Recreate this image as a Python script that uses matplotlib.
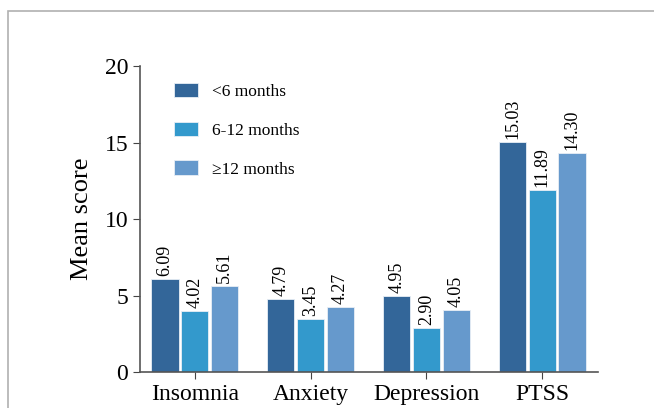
import numpy as np
import matplotlib.pyplot as plt
from matplotlib.patches import Rectangle

categories = ["Insomnia", "Anxiety", "Depression", "PTSS"]
groups = ["<6 months", "6-12 months", "≥12 months"]
values_lt6 = [6.09, 4.79, 4.95, 15.03]
values_6_12 = [4.02, 3.45, 2.90, 11.89]
values_ge12 = [5.61, 4.27, 4.05, 14.30]
y_ticks = [0, 5, 10, 15, 20]

colors = ["#336699", "#3399cc", "#6699cc"]
series = [values_lt6, values_6_12, values_ge12]

plt.rcParams['font.family'] = ['Liberation Serif', 'DejaVu Serif']

fig = plt.figure(figsize=(6.54, 4.08), dpi=100)
ax = fig.add_axes([0.214, 0.088, 0.700, 0.750])

# grey frame around the figure
fig.patches.append(Rectangle((0.012, -0.2), 1.2, 0.2 + 0.972, transform=fig.transFigure,
                             fill=False, edgecolor="#b0b0b0", linewidth=1.2))

x = np.arange(len(categories))
width = 0.235
step = 0.257
for i, (vals, col, lab) in enumerate(zip(series, colors, groups)):
    pos = x + (i - 1) * step
    ax.bar(pos, vals, width, color=col, edgecolor="#e8eef5", linewidth=0.6, label=lab)
    for p, v in zip(pos, vals):
        ax.text(p, v + 0.2, f"{v:.2f}", rotation=90, ha="center", va="bottom", fontsize=13)

ax.set_xlim(-0.474, 3.48)
ax.set_ylim(0, 20)
ax.set_yticks(y_ticks)
ax.set_xticks(x)
ax.set_xticklabels(categories, fontsize=17)
ax.tick_params(axis='y', labelsize=17, length=5, color="#444444")
ax.tick_params(axis='x', length=5, color="#444444")
ax.set_ylabel("Mean score", fontsize=19, labelpad=8)

for s in ["top", "right"]:
    ax.spines[s].set_visible(False)
for s in ["left", "bottom"]:
    ax.spines[s].set_color("#555555")
    ax.spines[s].set_linewidth(1.2)

ax.legend(loc="upper left", bbox_to_anchor=(0.04, 0.997), frameon=False, fontsize=12.5,
          handlelength=1.4, handleheight=0.9, labelspacing=1.25, handletextpad=0.8)

fig.savefig("out.png", dpi=100, facecolor="white")
